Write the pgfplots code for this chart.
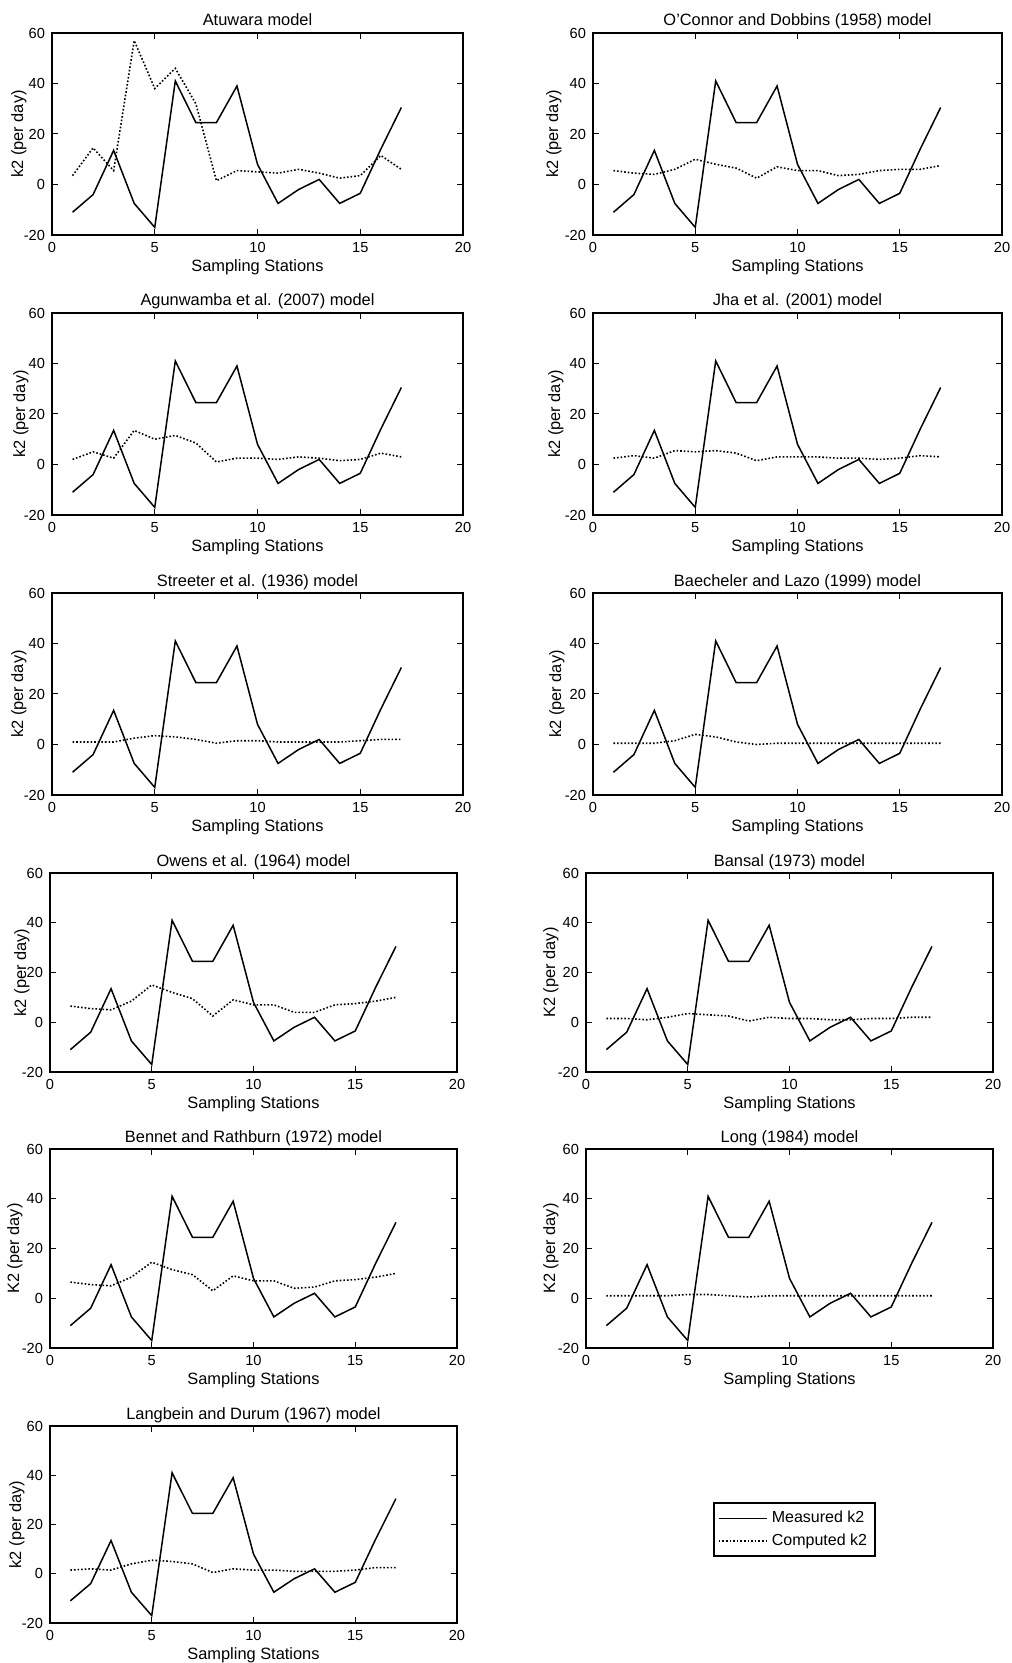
\documentclass[border=0pt]{standalone}
\usepackage{fontspec}
\setmainfont{Liberation Sans}
\usepackage{pgfplots}
\usepackage{pgfplotstable}
\pgfplotsset{compat=1.18}

% station, measured k2, computed k2 for each model
\pgfplotstableread{
x  meas  atu  oco  agu  jha  str  bae  owe  ban  ben  lon  lan
1  -11   3.5  5.5  2    2.5  1    0.5  6.5  1.5  6.5  1    1.5
2  -4    14.5 4.5  5    3.5  1    0.5  5.5  1.5  5.5  1    2
3  13.5  5.5  4    2.5  2.5  1    0.5  5    1    5    1    1.5
4  -7.5  57   6    13.5 5.5  2.5  1.5  8.5  2    8.5  1    4
5  -17   38   10   10   5    3.5  4    15   3.5  14.5 1.5  5.5
6  41    46   8    11.5 5.5  3    3    12   3    11.5 1.5  5
7  24.5  32   6.5  8.5  4.5  2    1    9.5  2.5  9.5  1    4
8  24.5  1.5  2.5  1    1.5  0.5  0    2.5  0.5  3    0.5  0.5
9  39    5.5  7    2.5  3    1.5  0.5  9    2    9    1    2
10 8     5    5.5  2.5  3    1.5  0.5  7    1.5  7    1    1.5
11 -7.5  4.5  5.5  2    3    1    0.5  7    1.5  7    1    1.5
12 -2    6    3.5  3    2.5  1    0.5  4    1    4    1    1
13 2     4.5  4    2.5  2.5  1    0.5  4    1    4.5  1    1
14 -7.5  2.5  5.5  1.5  2    1    0.5  7    1.5  7    1    1
15 -3.5  3.5  6    2    2.5  1.5  0.5  7.5  1.5  7.5  1    1.5
16 14    11.5 6    4.5  3.5  2    0.5  8.5  2    8.5  1    2.5
17 30.5  6    7.5  3    3    2    0.5  10   2    10   1    2.5
}\kdata

\pgfplotsset{
  panel/.style={
    scale only axis, anchor=north west,
    xmin=0, xmax=20, ymin=-20, ymax=60,
    xtick={0,5,...,20}, ytick={-20,0,...,60},
    tick align=inside, major tick length=3pt,
    axis line style={line width=0.9pt},
    tick style={black, line width=0.5pt},
    ticklabel style={font=\fontsize{7.3}{8}\selectfont},
    /pgf/number format/assume math mode=true,
    xlabel={Sampling Stations},
    label style={font=\fontsize{8.2}{9}\selectfont},
    x label style={at={(axis description cs:0.5,0)}, anchor=center, yshift=-16pt},
    y label style={at={(axis description cs:0,0.5)}, anchor=center},
    every axis title shift=0pt,
    title style={font=\fontsize{8.2}{9}\selectfont, at={(axis description cs:0.5,1)}, anchor=base, yshift=3.5pt},
  },
  ylab/.style={y label style={yshift=#1}},
  meas/.style={black, line width=0.75pt},
  comp/.style={black, line width=0.8pt, densely dotted},
}

\begin{document}
\begin{tikzpicture}
\useasboundingbox (0,0) rectangle (505.5pt,-831.5pt);

% row 1
\begin{axis}[panel, at={(26pt,-16.5pt)}, width=205.5pt, height=101pt, ylab=16.5pt,
  title={Atuwara model}, ylabel={k2 (per day)}]
\addplot[meas] table[x=x,y=meas] {\kdata};
\addplot[comp] table[x=x,y=atu] {\kdata};
\end{axis}
\begin{axis}[panel, at={(296.5pt,-16.5pt)}, width=204.5pt, height=101pt, ylab=19.5pt,
  title={O'Connor and Dobbins (1958) model}, ylabel={k2 (per day)}]
\addplot[meas] table[x=x,y=meas] {\kdata};
\addplot[comp] table[x=x,y=oco] {\kdata};
\end{axis}

% row 2
\begin{axis}[panel, at={(26pt,-156.5pt)}, width=205.5pt, height=101pt, ylab=15.5pt,
  title={Agunwamba et al. (2007) model}, ylabel={k2 (per day)}]
\addplot[meas] table[x=x,y=meas] {\kdata};
\addplot[comp] table[x=x,y=agu] {\kdata};
\end{axis}
\begin{axis}[panel, at={(296.5pt,-156.5pt)}, width=204.5pt, height=101pt, ylab=18.5pt,
  title={Jha et al. (2001) model}, ylabel={k2 (per day)}]
\addplot[meas] table[x=x,y=meas] {\kdata};
\addplot[comp] table[x=x,y=jha] {\kdata};
\end{axis}

% row 3
\begin{axis}[panel, at={(26pt,-296.5pt)}, width=205.5pt, height=101pt, ylab=16.5pt,
  title={Streeter et al. (1936) model}, ylabel={k2 (per day)}]
\addplot[meas] table[x=x,y=meas] {\kdata};
\addplot[comp] table[x=x,y=str] {\kdata};
\end{axis}
\begin{axis}[panel, at={(296.5pt,-296.5pt)}, width=204.5pt, height=101pt, ylab=18pt,
  title={Baecheler and Lazo (1999) model}, ylabel={k2 (per day)}]
\addplot[meas] table[x=x,y=meas] {\kdata};
\addplot[comp] table[x=x,y=bae] {\kdata};
\end{axis}

% row 4
\begin{axis}[panel, at={(25pt,-436.5pt)}, width=203.5pt, height=99.5pt, ylab=14pt,
  title={Owens et al. (1964) model}, ylabel={k2 (per day)}]
\addplot[meas] table[x=x,y=meas] {\kdata};
\addplot[comp] table[x=x,y=owe] {\kdata};
\end{axis}
\begin{axis}[panel, at={(293pt,-436.5pt)}, width=203.5pt, height=99.5pt, ylab=17.5pt,
  title={Bansal (1973) model}, ylabel={K2 (per day)}]
\addplot[meas] table[x=x,y=meas] {\kdata};
\addplot[comp] table[x=x,y=ban] {\kdata};
\end{axis}

% row 5
\begin{axis}[panel, at={(25pt,-574.5pt)}, width=203.5pt, height=99.5pt, ylab=17.5pt,
  title={Bennet and Rathburn (1972) model}, ylabel={K2 (per day)}]
\addplot[meas] table[x=x,y=meas] {\kdata};
\addplot[comp] table[x=x,y=ben] {\kdata};
\end{axis}
\begin{axis}[panel, at={(293pt,-574.5pt)}, width=203.5pt, height=99.5pt, ylab=17.5pt,
  title={Long (1984) model}, ylabel={K2 (per day)}]
\addplot[meas] table[x=x,y=meas] {\kdata};
\addplot[comp] table[x=x,y=lon] {\kdata};
\end{axis}

% row 6 with the legend to its right
\begin{axis}[panel, at={(25pt,-713pt)}, width=203.5pt, height=98.5pt, ylab=16.5pt,
  title={Langbein and Durum (1967) model}, ylabel={k2 (per day)},
  legend style={at={(axis description cs:1.629,0.614)}, anchor=north west,
    draw=black, line width=0.9pt, font=\fontsize{8}{9.5}\selectfont,
    inner sep=2pt, row sep=0pt},
  legend cell align=left,
  legend image code/.code={\draw[#1] (0cm,0cm) -- (0.85cm,0cm);}]
\addplot[meas] table[x=x,y=meas] {\kdata};
\addlegendentry{Measured k2}
\addplot[comp] table[x=x,y=lan] {\kdata};
\addlegendentry{Computed k2}
\end{axis}
\end{tikzpicture}
\end{document}
